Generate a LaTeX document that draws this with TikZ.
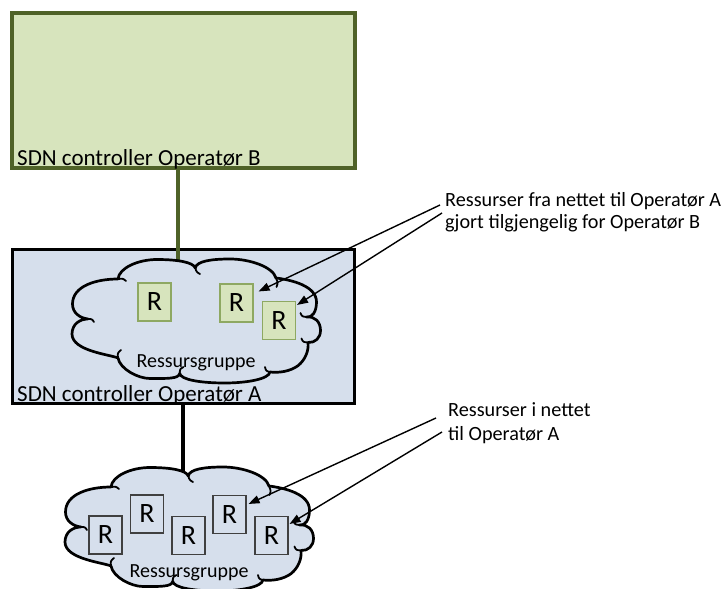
\documentclass[tikz,border=0pt]{standalone}
\usepackage{fontspec}
\setmainfont{Carlito}
\usetikzlibrary{arrows.meta}

\definecolor{boxgreen}{HTML}{D7E4BD}
\definecolor{ctrlolive}{HTML}{4F6228}
\definecolor{resgreenline}{HTML}{8EA862}
\definecolor{boxblue}{HTML}{D6DFEC}

% cloud outline, relative to the top left corner of a 248 x 126 frame
\newcommand\cloudoutline{%
  (16,61)
  .. controls (8,60) and (0.5,55) .. (0.5,46)
  .. controls (0.5,28) and (24,21) .. (46,21)
  .. controls (47,10) and (66,1.5) .. (85,1.5)
  .. controls (105,1.5) and (121,4) .. (123.3,10)
  .. controls (124.5,3) and (140,1) .. (158,1)
  .. controls (178,1) and (201,9) .. (204,20)
  .. controls (220,22) and (244.5,28) .. (244.5,44)
  .. controls (244.5,54) and (240,60) .. (234.5,59)
  .. controls (243,58) and (248.5,64) .. (248.5,72.5)
  .. controls (248.5,80) and (243,85) .. (236,84.5)
  .. controls (237,93) and (233,102) .. (226,107.7)
  .. controls (218,113.5) and (207,115) .. (198,114)
  .. controls (197,121) and (175,125) .. (152.7,125)
  .. controls (130,125) and (108.5,122) .. (107.7,115.3)
  .. controls (107,121) and (95,120.5) .. (78,120.5)
  .. controls (66,120.5) and (48,111) .. (46,100)
  .. controls (38,96.5) and (0,93) .. (0,76)
  .. controls (0,66) and (8,61) .. (16,61)
  -- cycle}

% small inner curls where the puffs meet
\newcommand\cloudcurls{%
  (16,61) .. controls (20,61) .. (22,64)
  (46,21) .. controls (51,20.5) .. (54,23)
  (123.3,10) .. controls (124.5,14) .. (128,16)
  (204,20) .. controls (206,25) .. (204.5,29)
  (234.5,59) .. controls (230,58.5) .. (228.5,55)
  (236,84.5) .. controls (231,84) .. (229.5,80.5)
  (198,114) .. controls (194,113) .. (193,109)
  (107.7,115.3) .. controls (108,111) .. (111.5,109)
  (46,100) .. controls (45.5,95) .. (49,92)}

\newcommand\drawcloud[2]{%
  \begin{scope}[shift={(#1,#2)}]
    \filldraw[cloudline, fill=boxblue] \cloudoutline;
    \draw[cloudline, line width=1.8pt] \cloudcurls;
  \end{scope}}

\tikzset{
  cloudline/.style={draw=black, line width=2.7pt, line join=round, line cap=round},
  ctrlB/.style={draw=ctrlolive, fill=boxgreen, line width=3.2pt, inner sep=0pt},
  ctrlA/.style={draw=black, fill=boxblue, line width=3pt, inner sep=0pt},
  ctrllabel/.style={anchor=base west, inner sep=0pt, font=\fontsize{23}{24}\selectfont},
  resgreen/.style={draw=resgreenline, fill=boxgreen, line width=1.1pt, minimum width=33pt,
    minimum height=38pt, inner sep=0pt, font=\fontsize{28}{28}\selectfont},
  resblue/.style={resgreen, draw=black!75, fill=boxblue},
  grouplabel/.style={anchor=base, inner sep=0pt, font=\fontsize{20}{21}\selectfont},
  notetext/.style={anchor=base west, inner sep=0pt, font=\fontsize{20.2}{22}\selectfont},
  notearrow/.style={-{Triangle[length=11pt,width=8pt]}, line width=1.4pt},
  linkB/.style={draw=ctrlolive, line width=3.8pt},
  linkA/.style={draw=black, line width=3.2pt},
}

\begin{document}
\begin{tikzpicture}[x=1pt, y=-1pt]
  \path[use as bounding box, clip] (0,0) rectangle (726,589);
  \fill[white] (0,0) rectangle (726,589);

  % controllers
  \node[ctrlB, minimum width=343pt, minimum height=155pt] (B) at (183.5,90.5) {};
  \node[ctrlA, minimum width=342pt, minimum height=154pt] (A) at (183,326) {};

  % links down to the resource groups
  \coordinate (c1top) at (178,278);
  \coordinate (c2top) at (183,490);
  \draw[linkB] (c1top |- B.south) -- (c1top);
  \draw[linkA] (A.south) -- (c2top);

  % resource groups
  \drawcloud{72}{258}
  \drawcloud{65}{466}

  \node[ctrllabel] (labB) at (17,165) {SDN controller Operatør B};
  \node[ctrllabel] (labA) at (17,401) {SDN controller Operatør A};

  \node[grouplabel] (g1) at (196,367) {Ressursgruppe};
  \node[grouplabel] (g2) at (189,577) {Ressursgruppe};

  % resources lent to operator B
  \node[resgreen] (r1) at (154.5,302) {R};
  \node[resgreen] (r2) at (236.5,303) {R};
  \node[resgreen] (r3) at (279,320.5) {R};

  % resources of operator A
  \node[resblue] (ra) at (105.5,535) {R};
  \node[resblue] (rb) at (147,514) {R};
  \node[resblue] (rc) at (188.5,535.5) {R};
  \node[resblue] (rd) at (229.5,514.5) {R};
  \node[resblue] (re) at (271.5,535.5) {R};

  % notes
  \node[notetext] (n1a) at (445,206) {Ressurser fra nettet til Operatør A};
  \node[notetext] (n1b) at (445,228) {gjort tilgjengelig for Operatør B};
  \node[notetext] (n2a) at (448,416) {Ressurser i nettet};
  \node[notetext] (n2b) at (448,440) {til Operatør A};

  \coordinate (s1) at (440,205);
  \coordinate (s2) at (442,213);
  \coordinate (s3) at (436,418);
  \coordinate (s4) at (442,432);
  \draw[notearrow] (s1) -- ([xshift=5pt,yshift=-8pt]r2.north east);
  \draw[notearrow] (s2) -- ([xshift=1pt,yshift=-4pt]r3.north east);
  \draw[notearrow] (s3) -- ([xshift=2pt,yshift=-9pt]rd.north east);
  \draw[notearrow] (s4) -- ([xshift=1pt,yshift=-8pt]re.north east);
\end{tikzpicture}
\end{document}
